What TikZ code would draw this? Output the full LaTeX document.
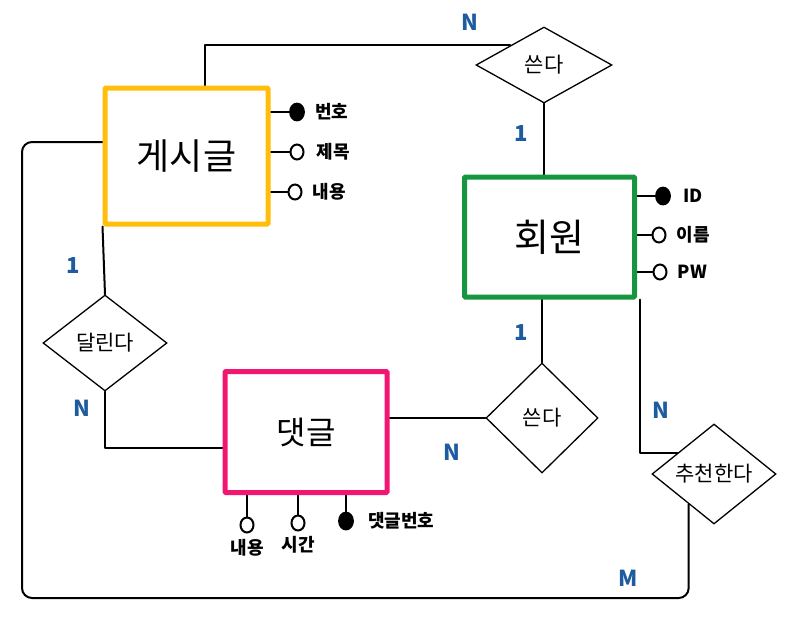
\documentclass[tikz,border=0pt]{standalone}
\usepackage{fontspec}
\setmainfont{Noto Sans CJK KR}
\usetikzlibrary{
  positioning,
  shapes.geometric,
  backgrounds
}
\definecolor{PostYellow}{RGB}{255,190,10}
\definecolor{MemberGreen}{RGB}{22,150,62}
\definecolor{ReplyPink}{RGB}{242,22,112}
\definecolor{CardBlue}{RGB}{30,92,160}
\tikzset{
  entity/.style={draw,line width=5pt,fill=white,rounded corners=1pt,inner sep=0pt},
  relation/.style={diamond,draw,line width=1.3pt,fill=white,inner sep=0pt,font=\fontsize{21}{21}\selectfont},
  link/.style={line width=2pt,line cap=round,line join=round},
  keyattr/.style={ellipse,draw,fill=black,line width=1.8pt,inner sep=0pt,minimum width=14pt,minimum height=17pt},
  plainattr/.style={ellipse,draw,fill=white,line width=2pt,inner sep=0pt,minimum width=13pt,minimum height=15pt},
  attrlabel/.style={inner sep=0pt,font=\fontsize{18}{18}\selectfont\bfseries},
  card/.style={text=CardBlue,font=\fontsize{22}{22}\selectfont\bfseries}
}

\begin{document}
\begin{tikzpicture}[x=1pt,y=-1pt]
\useasboundingbox (0,0) rectangle (785,622);
% entities
\node[entity,draw=PostYellow,minimum width=163pt,minimum height=136pt,font=\fontsize{36}{36}\selectfont] (post) at (186.5,156) {게시글};
\node[entity,draw=MemberGreen,minimum width=170pt,minimum height=120pt,font=\fontsize{38}{38}\selectfont] (member) at (549.5,237) {회원};
\node[entity,draw=ReplyPink,minimum width=162pt,minimum height=121pt,font=\fontsize{32}{32}\selectfont] (reply) at (306,432) {댓글};
% relations
\node[relation,minimum width=136pt,minimum height=76pt] (writes) at (544,65) {쓴다};
\node[relation,minimum width=124pt,minimum height=96pt] (attached) at (105,343) {달린다};
\node[relation,minimum width=112pt,minimum height=110pt] (writesr) at (542,418) {쓴다};
\node[relation,minimum width=124pt,minimum height=100pt] (recommends) at (714,474) {추천한다};
% attributes of post
\node[keyattr] (pnum) at (297,112) {};
\node[plainattr] (ptitle) at (297,152) {};
\node[plainattr] (pbody) at (295,192) {};
\node[attrlabel,right=10pt of pnum] {번호};
\node[attrlabel,right=12pt of ptitle] {제목};
\node[attrlabel,right=10pt of pbody] {내용};
% attributes of member
\node[keyattr] (mid) at (663,196) {};
\node[plainattr] (mname) at (659,235) {};
\node[plainattr] (mpw) at (660,272) {};
\node[attrlabel,right=12pt of mid] {ID};
\node[attrlabel,right=10pt of mname] {이름};
\node[attrlabel,right=10pt of mpw] {PW};
% attributes of reply
\node[plainattr] (rbody) at (247,525) {};
\node[plainattr] (rtime) at (298,523) {};
\node[keyattr] (rnum) at (346,521) {};
\node[attrlabel,below=6pt of rbody] {내용};
\node[attrlabel,below=5pt of rtime] {시간};
\node[attrlabel,right=14pt of rnum] {댓글번호};
% cardinalities
\node[card] (c1) at (470,22) {N};
\node[card] (c2) at (521,134) {1};
\node[card] (c3) at (521,333) {1};
\node[card] (c4) at (452,452) {N};
\node[card] (c5) at (73,266) {1};
\node[card] (c6) at (82,408) {N};
\node[card] (c7) at (661,410) {N};
\node[card] (c8) at (628,578) {M};
\coordinate (loopsw) at (22,598);
\begin{scope}[on background layer]
\draw[link] ([xshift=18pt]post.north) |- (writes.150);
\draw[link] (writes.south) -- (writes.south |- member.north);
\draw[link] (member.south -| writesr.north) -- (writesr.north);
\draw[link] (writesr.west) -- (writesr.west -| reply.east);
\draw[link] (post.south west) -- (attached.north);
\draw[link] (attached.south) |- ([yshift=-16pt]reply.west);
\draw[link] ([xshift=3pt]member.south east) |- (recommends.150);
\draw[link,rounded corners=10pt] (recommends.230) |- (loopsw) |- ([yshift=14pt]post.west);
\draw[link] (post.east |- pnum) -- (pnum);
\draw[link] (post.east |- ptitle) -- (ptitle);
\draw[link] (post.east |- pbody) -- (pbody);
\draw[link] (member.east |- mid) -- (mid);
\draw[link] (member.east |- mname) -- (mname);
\draw[link] (member.east |- mpw) -- (mpw);
\draw[link] (rbody |- reply.south) -- (rbody);
\draw[link] (rtime |- reply.south) -- (rtime);
\draw[link] (rnum |- reply.south) -- (rnum);
\end{scope}
\end{tikzpicture}
\end{document}
